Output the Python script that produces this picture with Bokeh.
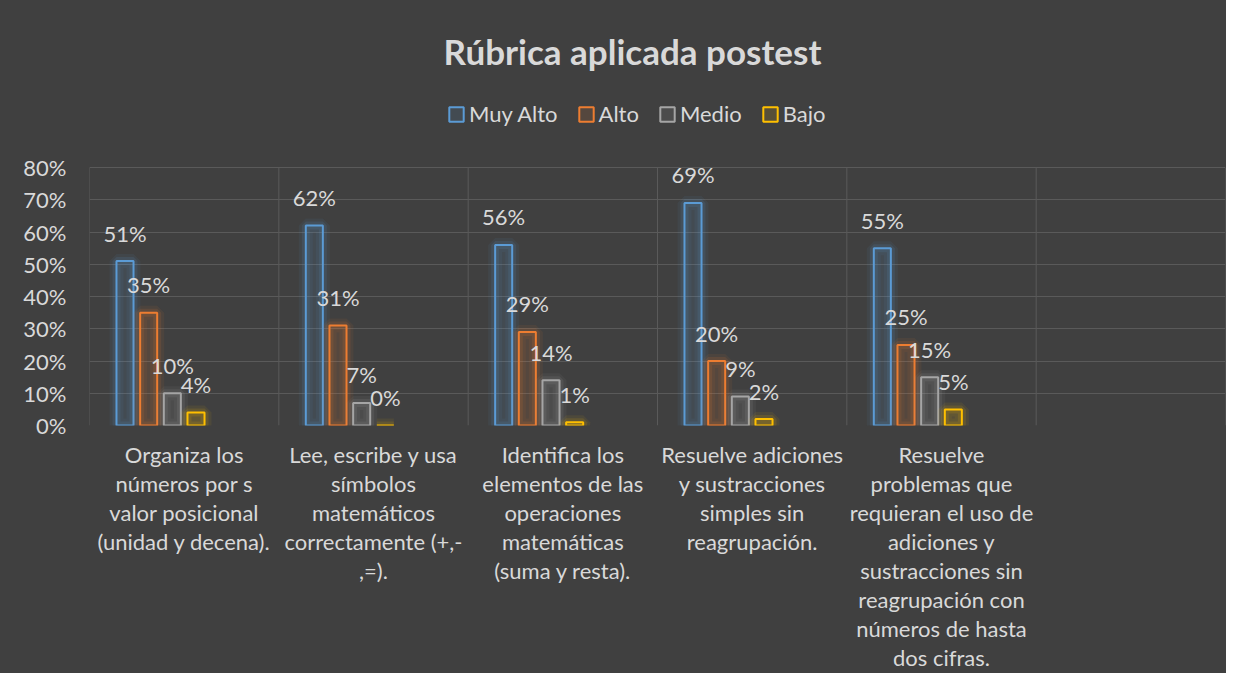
from bokeh.plotting import figure
from bokeh.models import (ColumnDataSource, Range1d, FixedTicker, NumeralTickFormatter,
                          Legend, LegendItem, Label)
from bokeh.transform import dodge
from bokeh.core.properties import value
from bokeh.embed import file_html
from bokeh.resources import INLINE

# ---- data ----
categories = [
    "Organiza los\nnúmeros por s\nvalor posicional\n(unidad y decena).",
    "Lee, escribe y usa\nsímbolos\nmatemáticos\ncorrectamente (+,-\n,=).",
    "Identifica los\nelementos de las\noperaciones\nmatemáticas\n(suma y resta).",
    "Resuelve adiciones\ny sustracciones\nsimples sin\nreagrupación.",
    "Resuelve\nproblemas que\nrequieran el uso de\nadiciones y\nsustracciones sin\nreagrupación con\nnúmeros de hasta\ndos cifras.",
    "",
]
series_names = ["Muy Alto", "Alto", "Medio", "Bajo"]
muy_alto = [0.51, 0.62, 0.56, 0.69, 0.55]
alto = [0.35, 0.31, 0.29, 0.20, 0.25]
medio = [0.10, 0.07, 0.14, 0.09, 0.15]
bajo = [0.04, 0.00, 0.01, 0.02, 0.05]
y_ticks = [0.0, 0.1, 0.2, 0.3, 0.4, 0.5, 0.6, 0.7, 0.8]
title_text = "Rúbrica aplicada postest"

series_values = [muy_alto, alto, medio, bajo]
colors = ["#5B9BD5", "#ED7D31", "#A5A5A5", "#FFC000"]

FONT = "Lato"
TXT = "#D9D9D9"
BG = "#404040"
GRID = "#5A5A5A"
FS = "22px"

ncat = len(categories)
centers = [i + 0.5 for i in range(ncat)]
y_max = y_ticks[-1]

# plot area: 258 px for 0..80%, plus 167 px headroom above for title/legend
FRAME_H = 425
y_top = y_max * FRAME_H / 258

p = figure(frame_width=1136, frame_height=FRAME_H, x_range=Range1d(0, ncat),
           y_range=Range1d(0, y_top),
           output_backend="svg", toolbar_location=None,
           min_border_left=89, min_border_right=1, min_border_bottom=244, min_border_top=0,
           background_fill_color=BG, border_fill_color=BG)
p.outline_line_color = None
p.styles = {"background-color": BG}

# grids
p.xgrid.visible = False
p.ygrid.ticker = FixedTicker(ticks=y_ticks[1:])
p.ygrid.grid_line_color = GRID
bounds_x = list(range(ncat + 1))
p.segment(x0=bounds_x, y0=[0] * len(bounds_x), x1=bounds_x, y1=[y_max] * len(bounds_x),
          line_color=GRID, line_width=1)

# y axis
p.yaxis.ticker = FixedTicker(ticks=y_ticks)
p.yaxis.formatter = NumeralTickFormatter(format="0%")
p.yaxis.axis_line_color = None
p.yaxis.major_tick_line_color = None
p.yaxis.minor_tick_line_color = None
p.yaxis.major_label_text_font = FONT
p.yaxis.major_label_text_font_size = FS
p.yaxis.major_label_text_color = TXT
p.yaxis.major_label_standoff = 17

# x axis
p.xaxis.ticker = FixedTicker(ticks=centers)
p.xaxis.major_label_overrides = {c: lab for c, lab in zip(centers, categories)}
p.xaxis.axis_line_color = None
p.xaxis.major_tick_line_color = None
p.xaxis.minor_tick_line_color = None
p.xaxis.major_label_text_font = FONT
p.xaxis.major_label_text_font_size = FS
p.xaxis.major_label_text_color = TXT
p.xaxis.major_label_text_line_height = 1.075
p.xaxis.major_label_standoff = 9

slot = 0.125
bar_w = 0.09
items = []
for j, (name, vals, col) in enumerate(zip(series_names, series_values, colors)):
    off = (j - 2.5) * slot
    src = ColumnDataSource(dict(x=centers[:len(vals)], v=vals,
                                lbl=[f"{round(v * 100)}%" for v in vals]))
    xd = dodge("x", off, range=p.x_range)
    # glow
    p.vbar(x=xd, top="v", width=bar_w, source=src, fill_alpha=0,
           line_color=col, line_alpha=0.07, line_width=14)
    p.vbar(x=xd, top="v", width=bar_w, source=src, fill_alpha=0,
           line_color=col, line_alpha=0.12, line_width=8)
    r = p.vbar(x=xd, top="v", width=bar_w, source=src, fill_color=col, fill_alpha=0.12,
               line_color=col, line_width=2)
    items.append(LegendItem(label=name, renderers=[r]))
    p.text(x=xd, y="v", text="lbl", source=src, text_align="center",
           text_baseline="alphabetic", y_offset=-28, text_color=TXT,
           text_font=value(FONT), text_font_size=FS)

legend = Legend(items=items, orientation="horizontal", location=(358, 298),
                label_text_font=FONT, label_text_font_size=FS, label_text_color=TXT,
                glyph_width=18, glyph_height=18, spacing=19, label_standoff=4,
                padding=0, margin=0, background_fill_alpha=0, border_line_color=None)
p.add_layout(legend)

title = Label(x=543, y=375, x_units="screen", y_units="screen", text=title_text,
              text_align="center", text_baseline="middle", text_font=FONT,
              text_font_size="35px", text_font_style="bold", text_color=TXT)
p.add_layout(title)

open("out.html", "w").write(file_html(p, INLINE))
